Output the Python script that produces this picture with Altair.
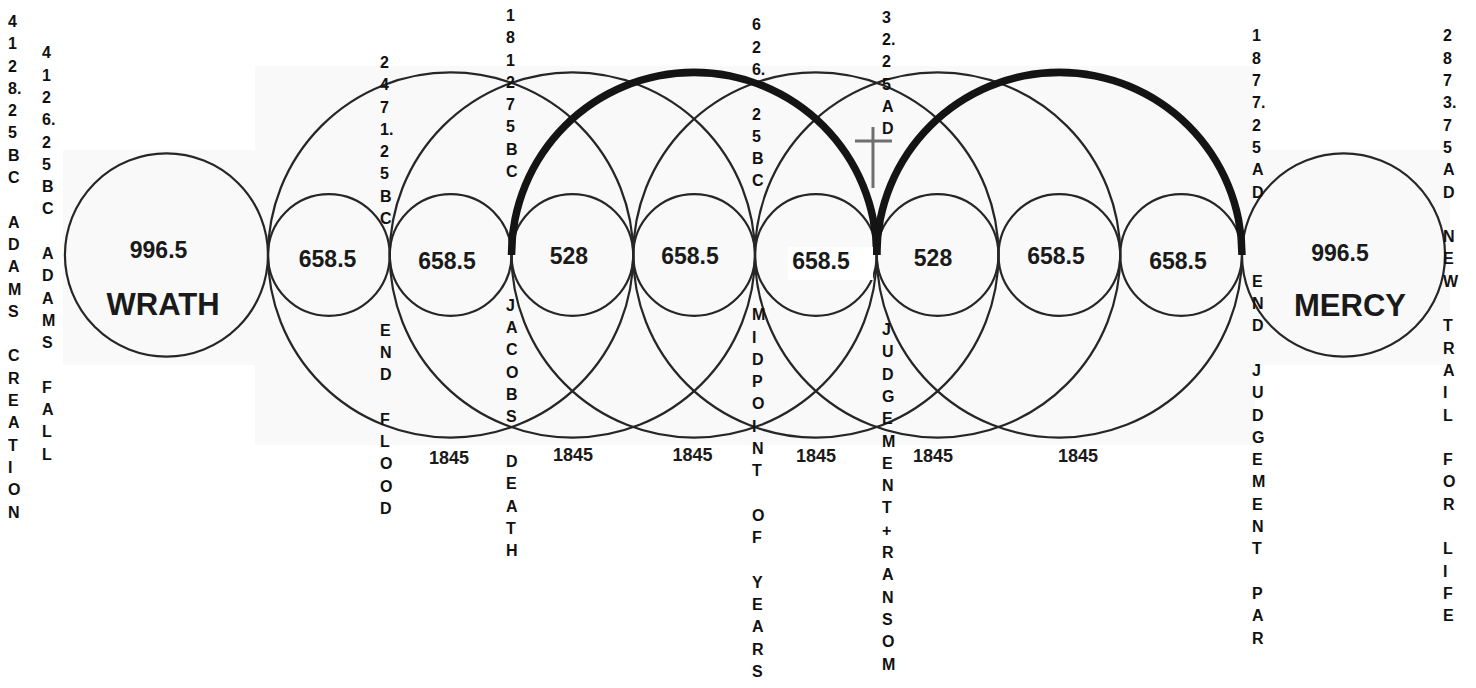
import math
import altair as alt
import pandas as pd

# ---------------- data (diagram units: 1 = diameter of a small circle,
# x = 0 at the tangent point of WRATH, y = 0 on the centre line, y up)
small_x = [0.5, 1.5, 2.5, 3.5, 4.5, 5.5, 6.5, 7.5]
small_r = [0.5, 0.5, 0.5, 0.5, 0.5, 0.5, 0.5, 0.5]
small_values = ["658.5", "658.5", "528", "658.5", "658.5", "528", "658.5", "658.5"]
small_label_x = [0.489, 1.470, 2.472, 3.466, 4.542, 5.462, 6.472, 7.474]
small_label_y = [-0.099, -0.115, -0.074, -0.074, -0.115, -0.090, -0.074, -0.115]

big_x = [1.5, 2.5, 3.5, 4.5, 5.5, 6.5]
big_r = [1.5, 1.5, 1.5, 1.5, 1.5, 1.5]
big_values = ["1845", "1845", "1845", "1845", "1845", "1845"]
big_label_x = [1.487, 2.505, 3.487, 4.501, 5.462, 6.653]
big_label_y = [-1.717, -1.692, -1.692, -1.700, -1.700, -1.700]

end_names = ["WRATH", "MERCY"]
end_values = ["996.5", "996.5"]
end_x = [-0.834, 8.834]
end_r = [0.834, 0.834]
end_value_x = [-0.899, 8.805]
end_value_y = [-0.025, -0.049]
end_name_x = [-0.862, 8.887]
end_name_y = [-0.493, -0.501]

highlight_x = [3.5, 6.5]
highlight_r = [1.5, 1.5]

# vertical labels, one entry per line ("" = empty line)
column_lines = [
    ["4", "1", "2", "8.", "2", "5", "B", "C", "", "A", "D", "A", "M", "S", "",
     "C", "R", "E", "A", "T", "I", "O", "N"],
    ["4", "1", "2", "6.", "2", "5", "B", "C", "", "A", "D", "A", "M", "S", "",
     "F", "A", "L", "L"],
    ["2", "4", "7", "1.", "2", "5", "B", "C", "", "", "", "", "E", "N", "D", "",
     "F", "L", "O", "O", "D"],
    ["1", "8", "1", "2", "7", "5", "B", "C", "", "", "", "", "", "J", "A", "C",
     "O", "B", "S", "", "D", "E", "A", "T", "H"],
    ["6", "2", "6.", "", "2", "5", "B", "C", "", "", "", "", "", "M", "I", "D",
     "P", "O", "I", "N", "T", "", "O", "F", "", "Y", "E", "A", "R", "S"],
    ["3", "2.", "2", "5", "A", "D", "", "", "", "", "", "", "", "", "J", "U", "D",
     "G", "E", "M", "E", "N", "T", "+", "R", "A", "N", "S", "O", "M"],
    ["1", "8", "7", "7.", "2", "5", "A", "D", "", "", "", "E", "N", "D", "", "J",
     "U", "D", "G", "E", "M", "E", "N", "T", "", "P", "A", "R"],
    ["2", "8", "7", "3.", "7", "5", "A", "D", "", "N", "E", "W", "", "T", "R", "A",
     "I", "L", "", "F", "O", "R", "", "L", "I", "F", "E"],
]
column_x = [-2.1355, -1.856, 0.920, 1.955, 3.975, 5.043, 8.082, 9.651]
column_y = [1.873, 1.615, 1.536, 1.922, 1.845, 1.907, 1.754, 1.754]

# faint background panels and the white patch behind one label
panel_x = [-0.107, -1.684, 8.0]
panel_x2 = [8.107, 0.0, 9.708]
panel_y = [1.552, 0.862, 0.862]
panel_y2 = [-1.561, -0.903, -0.903]
patch_x, patch_x2, patch_y, patch_y2 = [4.271], [4.969], [0.066], [-0.205]

# cross
cross_x = [4.969, 4.821]
cross_x2 = [4.969, 5.125]
cross_y = [1.051, 0.936]
cross_y2 = [0.550, 0.936]

# ---------------- layout
PX = 121.75            # pixels per diagram unit
X0, Y0 = 268, 255      # page pixel of the diagram origin
W, H = 1460, 672
FONT = "Liberation Sans"
THICK = 7.5            # px width of the highlighted arcs
LINE_H = 22.3          # px between lines of the vertical labels

xs = alt.Scale(domain=[(8 - X0) / PX, (8 + W - X0) / PX], nice=False, zero=False)
ys = alt.Scale(domain=[(Y0 - 8 - H) / PX, (Y0 - 8) / PX], nice=False, zero=False)
rs = alt.Scale(type="linear", domain=[0, 1], range=[0, PX], zero=True)


def X(f="x"):
    return alt.X(f"{f}:Q", scale=xs, axis=None)


def Y(f="y"):
    return alt.Y(f"{f}:Q", scale=ys, axis=None)


circ_df = pd.DataFrame({
    "x": end_x + small_x + big_x,
    "y": [0.0] * (len(end_x) + len(small_x) + len(big_x)),
    "r": end_r + small_r + big_r,
})
hl_df = pd.DataFrame({
    "x": highlight_x,
    "y": [0.0] * len(highlight_x),
    "ro": [r + THICK / 2 / PX for r in highlight_r],
    "ri": [r - THICK / 2 / PX for r in highlight_r],
})

rows = []
for cx, cy, lines in zip(column_x, column_y, column_lines):
    for i, s in enumerate(lines):
        if s:
            rows.append({"x": cx, "y": cy - i * LINE_H / PX, "t": s})
col_df = pd.DataFrame(rows)

panels = alt.Chart(pd.DataFrame({"x": panel_x, "x2": panel_x2, "y": panel_y, "y2": panel_y2})).mark_rect(
    color="#f9f9f9").encode(x=X(), x2="x2:Q", y=Y(), y2="y2:Q")

circles = alt.Chart(circ_df).mark_arc(
    theta=0, theta2=2 * math.pi, filled=False, stroke="#262626", strokeWidth=2.2
).encode(x=X(), y=Y(), radius=alt.Radius("r:Q", scale=rs, stack=False))

highlights = alt.Chart(hl_df).mark_arc(
    theta=1.5 * math.pi, theta2=2.5 * math.pi, color="#141414"
).encode(x=X(), y=Y(), radius=alt.Radius("ro:Q", scale=rs, stack=False), radius2="ri:Q")

patch = alt.Chart(pd.DataFrame({"x": patch_x, "x2": patch_x2, "y": patch_y, "y2": patch_y2})).mark_rect(
    color="white").encode(x=X(), x2="x2:Q", y=Y(), y2="y2:Q")

cross = alt.Chart(pd.DataFrame({"x": cross_x, "x2": cross_x2, "y": cross_y, "y2": cross_y2})).mark_rule(
    color="#6e6e6e", strokeWidth=3).encode(x=X(), x2="x2:Q", y=Y(), y2="y2:Q")

columns = alt.Chart(col_df).mark_text(
    align="left", baseline="alphabetic",
    font=FONT, fontWeight="bold", fontSize=16, color="#111111"
).encode(x=X(), y=Y(), text="t:N")

small_txt = alt.Chart(pd.DataFrame({"x": small_label_x, "y": small_label_y, "t": small_values})).mark_text(
    align="center", baseline="alphabetic", font=FONT, fontWeight="bold", fontSize=23, color="#1a1a1a"
).encode(x=X(), y=Y(), text="t:N")

big_txt = alt.Chart(pd.DataFrame({"x": big_label_x, "y": big_label_y, "t": big_values})).mark_text(
    align="center", baseline="alphabetic", font=FONT, fontWeight="bold", fontSize=18, color="#1a1a1a"
).encode(x=X(), y=Y(), text="t:N")

end_val_txt = alt.Chart(pd.DataFrame({"x": end_value_x, "y": end_value_y, "t": end_values})).mark_text(
    align="center", baseline="alphabetic", font=FONT, fontWeight="bold", fontSize=23, color="#1a1a1a"
).encode(x=X(), y=Y(), text="t:N")

end_name_txt = alt.Chart(pd.DataFrame({"x": end_name_x, "y": end_name_y, "t": end_names})).mark_text(
    align="center", baseline="alphabetic", font=FONT, fontWeight="bold", fontSize=31, color="#1a1a1a"
).encode(x=X(), y=Y(), text="t:N")

chart = alt.layer(
    panels, circles, highlights, patch, cross, columns, small_txt, big_txt, end_val_txt, end_name_txt
).properties(
    width=W, height=H, padding=0, autosize=alt.AutoSizeParams(type="none"), background="white"
).configure_view(stroke=None)

chart.save("out.html", embed_options={"renderer": "svg", "actions": False})
